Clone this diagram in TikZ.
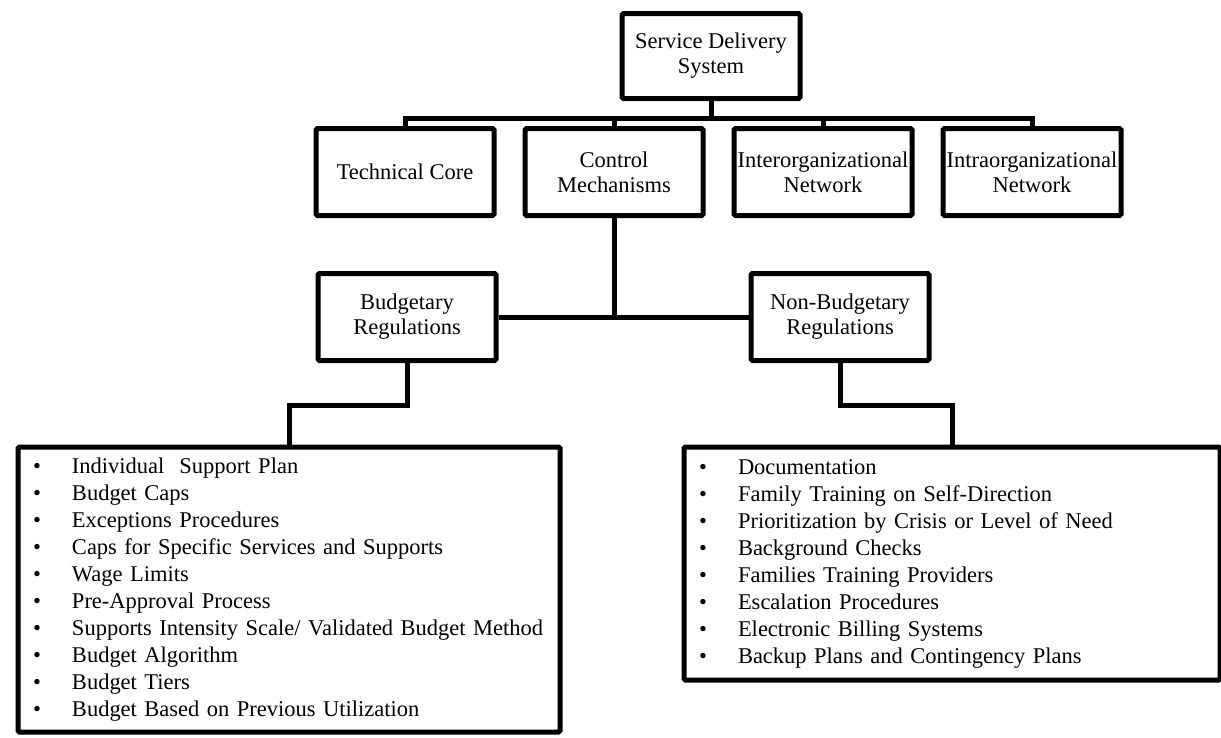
\documentclass[tikz,border=0pt]{standalone}
\usepackage{fontspec}
\setmainfont{Liberation Serif}
\usetikzlibrary{positioning}
\tikzset{
  box/.style={rectangle, draw=black, line width=5pt, rounded corners=1.5pt, minimum width=178pt, minimum height=87pt, inner sep=2pt, align=center, font=\fontsize{22.5}{25}\selectfont},
  listbox/.style={rectangle, draw=black, line width=5pt, rounded corners=1.5pt, anchor=north west, inner xsep=15pt, inner ysep=2pt, align=left, font=\fontsize{22.5}{27}\selectfont},
  connect/.style={line width=5pt}
}
\newcommand{\bl}{\makebox[39pt][l]{\textbullet}}

\begin{document}
\begin{tikzpicture}[x=1pt, y=-1pt]
  \useasboundingbox (0,0) rectangle (1221,737);

  % top of the tree
  \node[box, minimum height=85pt] (SDS) at (711,56) {Service Delivery\\System};

  % second level: the four parts of the system
  \node[box] (TechCore) at (405,172) {Technical Core};
  \node[box, right=26pt of TechCore] (Control) {Control\\Mechanisms};
  \node[box, right=26pt of Control] (Inter) {Interorganizational\\Network};
  \node[box, right=26pt of Inter] (Intra) {Intraorganizational\\Network};

  \draw[connect] (SDS.south) -- ++(0,17) coordinate (hub);
  \foreach \n in {TechCore,Control,Inter,Intra}
    \draw[connect] (hub) -| (\n.north);

  % third level: the two kinds of regulations
  \node[box] (Budget) at (407,317) {Budgetary\\Regulations};
  \node[box] (NonBudget) at (840,317) {Non-Budgetary\\Regulations};
  \draw[connect] (Control.south) -- (Control.south |- Budget.east);
  \draw[connect] (Budget.east) -- (NonBudget.west);

  % the lists
  \node[listbox, minimum width=542pt, minimum height=285pt, text width=512pt] (BudgetList) at (15.5,444.5)
    {\bl Individual\ \ Support Plan\\
     \bl Budget Caps\\
     \bl Exceptions Procedures\\
     \bl Caps for Specific Services and Supports\\
     \bl Wage Limits\\
     \bl Pre-Approval Process\\
     \bl Supports Intensity Scale/ Validated Budget Method\\
     \bl Budget Algorithm\\
     \bl Budget Tiers\\
     \bl Budget Based on Previous Utilization};
  \node[listbox, minimum width=536pt, minimum height=233pt, text width=506pt] (NonBudgetList) at (681.5,444.5)
    {\bl Documentation\\
     \bl Family Training on Self-Direction\\
     \bl Prioritization by Crisis or Level of Need\\
     \bl Background Checks\\
     \bl Families Training Providers\\
     \bl Escalation Procedures\\
     \bl Electronic Billing Systems\\
     \bl Backup Plans and Contingency Plans};

  \draw[connect] (Budget.south) -- ++(0,42) -| (BudgetList.north);
  \draw[connect] (NonBudget.south) -- ++(0,42) -| (NonBudgetList.north);
\end{tikzpicture}
\end{document}
